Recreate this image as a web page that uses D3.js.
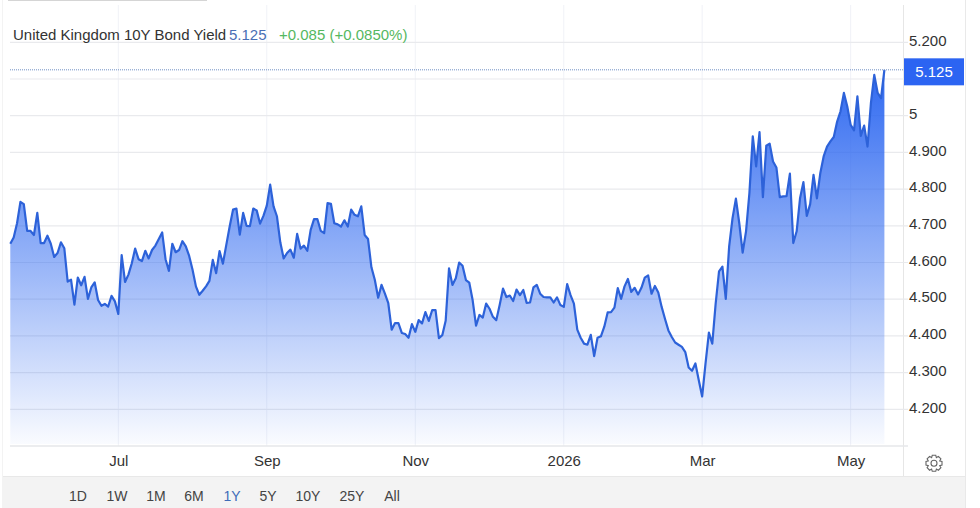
<!DOCTYPE html>
<html><head><meta charset="utf-8">
<script src="https://cdn.jsdelivr.net/npm/d3@7"></script>
<style>
html,body{margin:0;padding:0;background:#fff}
svg{display:block}
text{font-family:"Liberation Sans",Arial,sans-serif}
</style></head><body><svg id="c" width="980" height="508"></svg>
<script>
const seriesName="United Kingdom 10Y Bond Yield";
const lastText="5.125", changeText="+0.085 (+0.0850%)";
const rangeButtons=["1D","1W","1M","6M","1Y","5Y","10Y","25Y","All"];
const activeButton="1Y";
const monthLabels=["Jul","Sep","Nov","2026","Mar","May"];
const monthIndex=[32,76,120,164,205,249];
const yTicks=[4.2,4.3,4.4,4.5,4.6,4.7,4.8,4.9,5,5.1,5.2];
const yLabelled=[4.2,4.3,4.4,4.5,4.6,4.7,4.8,4.9,5,5.2];
const yields=[
4.651,4.668,4.707,4.765,4.759,4.686,4.686,4.675,4.735,4.653,4.653,4.673,4.651,4.615,4.626,4.655,4.639,4.548,4.553,4.485,
4.559,4.538,4.561,4.501,4.532,4.546,4.498,4.482,4.487,4.480,4.509,4.494,4.460,4.620,4.547,4.567,4.598,4.638,4.609,4.604,
4.632,4.611,4.634,4.646,4.664,4.682,4.609,4.577,4.651,4.628,4.634,4.658,4.644,4.618,
4.580,4.535,4.512,4.523,4.535,4.550,4.607,4.571,4.631,4.597,4.648,4.698,4.744,4.747,4.676,4.735,4.700,4.699,4.747,4.742,
4.706,4.727,4.755,4.812,4.753,4.726,4.655,4.611,4.626,4.635,4.613,4.678,4.638,4.646,4.632,4.689,4.718,4.718,4.686,4.680,
4.762,4.760,4.707,4.704,4.698,4.715,4.698,4.744,4.730,4.726,4.753,4.675,4.664,4.587,4.553,4.504,4.539,4.515,4.489,
4.417,4.435,4.435,4.408,4.405,4.395,4.432,4.411,4.443,4.434,4.465,4.441,4.470,4.470,4.394,4.402,4.441,4.584,4.539,4.557,
4.600,4.591,4.552,4.545,4.497,4.428,4.457,4.450,4.488,4.474,4.452,4.443,4.484,4.529,4.506,4.510,4.495,4.526,4.511,4.525,
4.490,4.491,4.532,4.539,4.515,4.506,4.505,4.505,4.491,4.505,4.484,
4.479,4.541,4.511,4.488,4.417,4.395,4.379,4.376,4.403,4.345,4.395,4.399,4.425,4.464,4.465,4.477,4.530,4.501,4.535,4.555,
4.520,4.531,4.513,4.531,4.559,4.565,4.515,4.536,4.518,4.479,4.446,4.415,4.397,4.382,4.376,4.370,4.356,4.314,4.305,4.325,
4.279,4.235,4.325,4.409,4.379,4.488,4.576,
4.589,4.501,4.644,4.721,4.774,4.707,4.627,4.685,4.789,4.944,4.862,4.955,4.778,4.918,4.924,4.875,4.859,4.778,4.780,4.781,
4.842,4.653,4.685,
4.775,4.819,4.727,4.759,4.839,4.775,4.843,4.889,4.916,4.930,4.942,4.984,5.012,5.062,5.025,4.975,4.960,5.053,4.945,4.973,
4.916,5.034,5.111,5.062,5.048,5.125];

const svg=d3.select("#c");
const W={l:10,r:903,gridEnd:908,base:446,foot:476,edge:965};
const x=d3.scaleLinear().domain([0,yields.length-1]).range([10.3,884.4]);
const y=d3.scaleLinear().domain([4.2,5.2]).range([409.3,42.3]);
const last=yields[yields.length-1];

// frame pieces
svg.append("rect").attr("x",3).attr("y",W.foot).attr("width",W.edge-3).attr("height",508-W.foot).attr("fill","#f3f3f3");
svg.append("line").attr("x1",3).attr("x2",W.edge).attr("y1",W.foot+.5).attr("y2",W.foot+.5).attr("stroke","#e8e8e8");
svg.append("line").attr("x1",2.5).attr("x2",2.5).attr("y1",0).attr("y2",508).attr("stroke","#f3f3f3");
svg.append("line").attr("x1",W.edge+.5).attr("x2",W.edge+.5).attr("y1",0).attr("y2",508).attr("stroke","#e9e9e9");
svg.append("line").attr("x1",8).attr("x2",207).attr("y1",.5).attr("y2",.5).attr("stroke","#d5d5d5");
svg.append("line").attr("x1",W.r+.5).attr("x2",W.r+.5).attr("y1",5).attr("y2",W.foot).attr("stroke","#e6e6e6");

// gridlines
svg.append("g").selectAll("line").data(monthIndex).join("line")
  .attr("x1",d=>x(d)).attr("x2",d=>x(d)).attr("y1",5).attr("y2",W.base)
  .attr("stroke","#f0f2f7");
svg.append("g").selectAll("line").data(yTicks).join("line")
  .attr("x1",W.l).attr("x2",W.gridEnd).attr("y1",d=>y(d)).attr("y2",d=>y(d))
  .attr("stroke","#e9eaed").attr("stroke-width",1.2);
svg.append("line").attr("x1",W.l).attr("x2",W.gridEnd).attr("y1",W.base).attr("y2",W.base)
  .attr("stroke","#e6e7ea").attr("stroke-width",1.5);

// area + line
const defs=svg.append("defs");
const g=defs.append("linearGradient").attr("id","fade").attr("gradientUnits","userSpaceOnUse")
  .attr("x1",0).attr("x2",0).attr("y1",y(last)).attr("y2",W.base);
g.append("stop").attr("offset",0).attr("stop-color","#2864f0").attr("stop-opacity",.97);
g.append("stop").attr("offset",1).attr("stop-color","#2864f0").attr("stop-opacity",.02);
svg.append("path").datum(yields)
  .attr("d",d3.area().x((d,i)=>x(i)).y0(W.base-2).y1(d=>y(d)))
  .attr("fill","url(#fade)");
svg.append("path").datum(yields)
  .attr("d",d3.line().x((d,i)=>x(i)).y(d=>y(d)))
  .attr("fill","none").attr("stroke","#2d62d9").attr("stroke-width",2.2).attr("stroke-linejoin","round");

// last price line
svg.append("line").attr("x1",W.l).attr("x2",W.r).attr("y1",y(last)).attr("y2",y(last))
  .attr("stroke","#6f8fc4").attr("stroke-width",1).attr("stroke-dasharray","1 1");

// axes
const yAxis=d3.axisRight(y).tickValues(yLabelled).tickSize(0).tickPadding(0)
  .tickFormat(d=>d===5?"5":d3.format(".3f")(d));
svg.append("g").attr("transform","translate(909,0)").call(yAxis)
  .call(a=>a.select(".domain").remove())
  .selectAll("text").attr("font-size",15).attr("fill","#333").attr("dy","0.18em")
  .style("font-family",'"Liberation Sans",Arial,sans-serif');
const xAxis=d3.axisBottom(x).tickValues(monthIndex).tickSize(0).tickPadding(0)
  .tickFormat((d,i)=>monthLabels[i]);
svg.append("g").attr("transform","translate(0,455)").call(xAxis)
  .call(a=>a.select(".domain").remove())
  .selectAll("text").attr("font-size",15).attr("fill","#333").attr("dy","0.71em")
  .style("font-family",'"Liberation Sans",Arial,sans-serif');

// last price label
svg.append("rect").attr("x",904).attr("y",y(last)-11.5).attr("width",60).attr("height",27).attr("fill","#2c64f2");
svg.append("text").attr("x",934).attr("y",y(last)+7.5).attr("text-anchor","middle")
  .attr("font-size",15).attr("fill","#fff").text(lastText);

// title
const title=svg.append("text").attr("y",40).attr("font-size",15);
title.append("tspan").attr("x",13).attr("fill","#333").text(seriesName);
title.append("tspan").attr("x",229).attr("fill","#4a6fb5").text(lastText);
title.append("tspan").attr("x",279).attr("fill","#55b85f").text(changeText);

// range buttons
const buttonPos={"1D":78,"1W":117,"1M":156,"6M":194,"1Y":232,"5Y":268,"10Y":308,"25Y":352,"All":392};
svg.append("g").selectAll("text").data(rangeButtons).join("text")
  .attr("x",d=>buttonPos[d]).attr("y",501).attr("text-anchor","middle").attr("font-size",14)
  .attr("fill",d=>d===activeButton?"#3f6cb8":"#444").text(d=>d);

// settings gear
const gear=[],teeth=8,R=8.2,r=6.2;
for(let i=0;i<teeth;i++){
  const a=i/teeth*2*Math.PI,s=Math.PI/teeth;
  [[r,-s],[R,-s*.55],[R,s*.55],[r,s]].forEach(([m,o])=>gear.push([m*Math.cos(a+o),m*Math.sin(a+o)]));
}
const gg=svg.append("g").attr("transform","translate(934,463.3)").attr("fill","none").attr("stroke","#666").attr("stroke-width",1.1);
gg.append("path").attr("d",d3.line().curve(d3.curveLinearClosed)(gear));
gg.append("circle").attr("r",3);
</script></body></html>
